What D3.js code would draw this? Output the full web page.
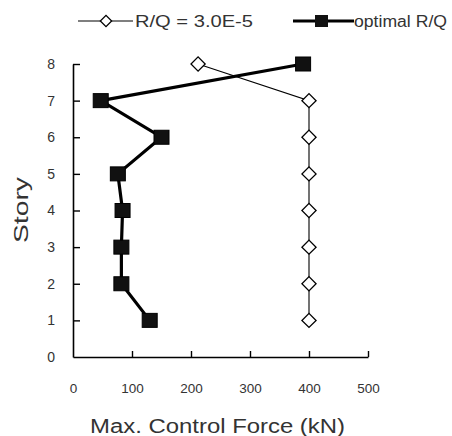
<!DOCTYPE html>
<html><head><meta charset="utf-8">
<script src="https://cdn.jsdelivr.net/npm/d3@7"></script>
<style>body{margin:0;background:#fff}svg{display:block}</style>
</head><body>
<svg id="c" width="452" height="436"></svg>
<script>
const stories = [1,2,3,4,5,6,7,8];
const rqFixed = [400,400,400,400,400,400,400,212];
const rqOptimal = [130,82,82,84,76,150,47,390];
const xTicks = [0,100,200,300,400,500];
const yTicks = [0,1,2,3,4,5,6,7,8];
const seriesNames = ["R/Q = 3.0E-5","optimal R/Q"];

const svg = d3.select("#c");
const x = d3.scaleLinear().domain([0,500]).range([73,368]);
const y = d3.scaleLinear().domain([0,8]).range([357,64]);
const font = "Arial, 'Liberation Sans', sans-serif";
const txt = "#333";

// axes
const xa = svg.append("g").attr("transform",`translate(0,${y(0)})`)
  .call(d3.axisBottom(x).tickValues(xTicks).tickSizeInner(-6).tickSizeOuter(0).tickPadding(26));
const ya = svg.append("g").attr("transform",`translate(${x(0)},0)`)
  .call(d3.axisLeft(y).tickValues(yTicks).tickSizeInner(-7).tickSizeOuter(0).tickPadding(18));
[xa,ya].forEach(a=>{
  a.select(".domain").attr("stroke","#000").attr("stroke-width",1.6);
  a.selectAll(".tick line").attr("stroke","#000").attr("stroke-width",1.4);
  a.selectAll(".tick text").attr("font-family",font).attr("fill",txt);
});
xa.selectAll(".tick text").attr("font-size",13.5);
ya.selectAll(".tick text").attr("font-size",14);
ya.selectAll(".tick").filter(d=>d===0).select("line").remove();
xa.selectAll(".tick").filter(d=>d===0).select("line").remove();

// axis titles
svg.append("text").attr("x",90).attr("y",433)
  .attr("font-family",font).attr("font-size",20).attr("fill",txt)
  .attr("textLength",255).attr("lengthAdjust","spacingAndGlyphs").text("Max. Control Force (kN)");
svg.append("text").attr("transform","translate(28,210) rotate(-90)").attr("text-anchor","middle")
  .attr("font-family",font).attr("font-size",20).attr("fill",txt)
  .attr("textLength",66).attr("lengthAdjust","spacingAndGlyphs").text("Story");

const line = d3.line().x(d=>x(d[0])).y(d=>y(d[1]));
const fixedPts = stories.map((s,i)=>[rqFixed[i],s]);
const optPts = stories.map((s,i)=>[rqOptimal[i],s]);

// fixed R/Q series
svg.append("path").attr("d",line(fixedPts)).attr("fill","none").attr("stroke","#000").attr("stroke-width",1.1);
const diamond = d3.symbol().type(d3.symbolSquare).size(100);
svg.selectAll(".dia").data(fixedPts).join("path")
  .attr("d",diamond).attr("transform",d=>`translate(${x(d[0])},${y(d[1])}) rotate(45)`)
  .attr("fill","#fff").attr("stroke","#000").attr("stroke-width",1.3);

// optimal series
svg.append("path").attr("d",line(optPts)).attr("fill","none").attr("stroke","#000").attr("stroke-width",3.2);
svg.selectAll(".sq").data(optPts).join("rect")
  .attr("x",d=>x(d[0])-7.5).attr("y",d=>y(d[1])-7).attr("width",15).attr("height",14)
  .attr("fill","#111").attr("stroke","#000").attr("stroke-width",1);

// legend
const lg = svg.append("g");
lg.append("line").attr("x1",78).attr("x2",133).attr("y1",21).attr("y2",21).attr("stroke","#000").attr("stroke-width",1.1);
lg.append("path").attr("d",d3.symbol().type(d3.symbolSquare).size(64)).attr("transform","translate(106,21) rotate(45)")
  .attr("fill","#fff").attr("stroke","#000").attr("stroke-width",1.3);
lg.append("text").attr("x",135).attr("y",27).attr("font-family",font).attr("font-size",16).attr("fill",txt)
  .attr("textLength",118).attr("lengthAdjust","spacingAndGlyphs").text(seriesNames[0]);
lg.append("line").attr("x1",293).attr("x2",354).attr("y1",21).attr("y2",21).attr("stroke","#000").attr("stroke-width",3);
lg.append("rect").attr("x",315).attr("y",15).attr("width",13).attr("height",12).attr("fill","#111");
lg.append("text").attr("x",354).attr("y",27).attr("font-family",font).attr("font-size",16).attr("fill",txt)
  .attr("textLength",93).attr("lengthAdjust","spacingAndGlyphs").text(seriesNames[1]);
</script>
</body></html>
